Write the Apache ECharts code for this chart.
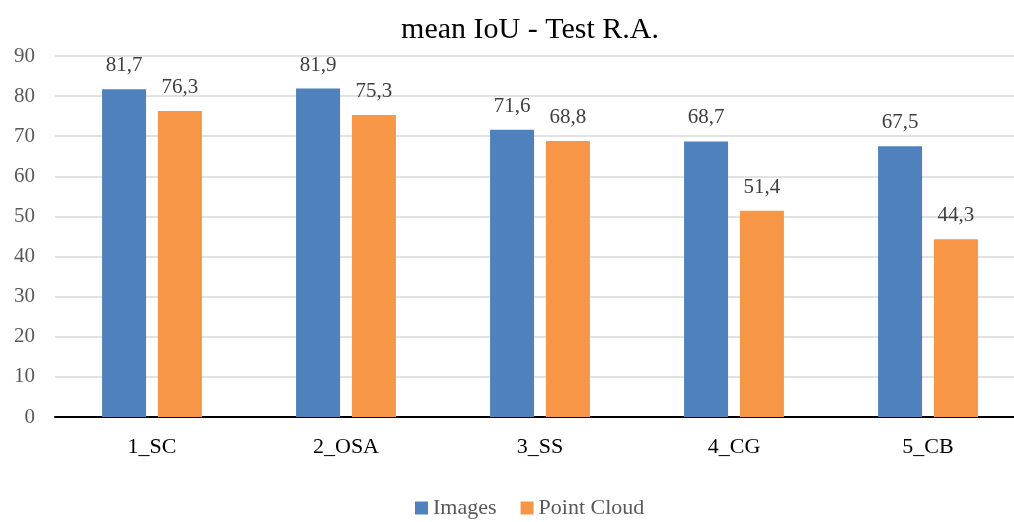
<!DOCTYPE html>
<html>
<head>
<meta charset="utf-8">
<script src="https://cdn.jsdelivr.net/npm/echarts@6/dist/echarts.min.js"></script>
<style>
  html, body { margin: 0; padding: 0; background: #fff; overflow: hidden; }
  #chart { width: 1014px; height: 522px; }
</style>
</head>
<body>
<div id="chart"></div>
<script>
const categories = ['1_SC', '2_OSA', '3_SS', '4_CG', '5_CB'];
const imagesValues = [81.7, 81.9, 71.6, 68.7, 67.5];
const pointCloudValues = [76.3, 75.3, 68.8, 51.4, 44.3];
const seriesNames = ['Images', 'Point Cloud'];

const FONT = '"Liberation Serif", "DejaVu Serif", serif';
const fmt = p => String(p.value).replace('.', ',');

const chart = echarts.init(document.getElementById('chart'));
chart.setOption({
  animation: false,
  textStyle: { fontFamily: FONT },
  title: {
    text: 'mean IoU - Test R.A.',
    left: 525,
    textAlign: 'center',
    top: 10,
    textStyle: { fontFamily: FONT, fontSize: 30, fontWeight: 'normal', color: '#000' }
  },
  legend: {
    bottom: -2,
    left: 410,
    itemWidth: 13,
    itemHeight: 13,
    itemGap: 24,
    icon: 'rect',
    textStyle: { fontFamily: FONT, fontSize: 22, color: '#595959' },
    data: seriesNames
  },
  grid: { left: 55, width: 970, top: 56, bottom: 105, containLabel: false, outerBoundsMode: 'none' },
  xAxis: {
    type: 'category',
    data: categories,
    axisLine: { lineStyle: { color: '#000', width: 2 } },
    axisTick: { show: false },
    axisLabel: { fontFamily: FONT, fontSize: 22, color: '#000', margin: 19 }
  },
  yAxis: {
    type: 'value',
    min: 0,
    max: 90,
    interval: 10,
    axisLine: { show: false },
    axisTick: { show: false },
    axisLabel: { fontFamily: FONT, fontSize: 21, color: '#595959', margin: 20 },
    splitLine: { lineStyle: { color: '#d9d9d9', width: 1.5 } }
  },
  series: [
    {
      name: seriesNames[0],
      type: 'bar',
      data: imagesValues,
      barWidth: 44,
      barGap: '27%',
      itemStyle: { color: '#4F81BD' },
      label: { show: true, position: 'top', distance: 13, formatter: fmt,
               fontFamily: FONT, fontSize: 21, color: '#404040' }
    },
    {
      name: seriesNames[1],
      type: 'bar',
      data: pointCloudValues,
      barWidth: 44,
      itemStyle: { color: '#F79646' },
      label: { show: true, position: 'top', distance: 13, formatter: fmt,
               fontFamily: FONT, fontSize: 21, color: '#404040' }
    }
  ]
});
</script>
</body>
</html>
